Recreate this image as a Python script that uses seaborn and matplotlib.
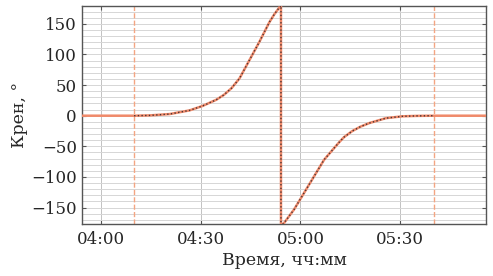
import numpy as np
import pandas as pd
import seaborn as sns
import matplotlib.pyplot as plt
from matplotlib.ticker import MultipleLocator, FixedLocator, FixedFormatter

# === DATA ===
# время в минутах от 04:00, крен в градусах
t_model = [10, 14.7, 20.7, 26.7, 30.6, 34.7, 37.0, 39.3, 41.7, 43.2, 44.7, 46.2, 47.7,
           49.2, 50.7, 52.2, 53.7, 54.15,
           54.15, 55.1, 58.1, 61.1, 64.1, 67.1, 70.1, 71.7, 73.1, 75.6, 78.0, 80.7,
           85.7, 90.6, 95, 100]
roll_model = [0, 0.5, 2.7, 8.7, 16, 26, 34, 45, 61, 76, 91, 106, 121,
              137, 153, 166, 177, 180,
              -180, -175, -153, -126, -99, -72, -53, -43, -35, -25, -18, -12,
              -4, -1, -0.3, 0]

t_meas = [-6] + t_model + [116]
roll_meas = [0] + roll_model + [0]

t_marks = [10, 100]  # границы интервала
tick_pos = [0, 30, 60, 90]
tick_labels = ["04:00", "04:30", "05:00", "05:30"]

df_meas = pd.DataFrame({"t": t_meas, "roll": roll_meas})
df_model = pd.DataFrame({"t": t_model, "roll": roll_model})

sns.set_style("ticks")
plt.rcParams['font.family'] = ['DejaVu Serif']

fig = plt.figure(figsize=(4.93, 2.76), dpi=100)
ax = fig.add_axes([0.166, 0.188, 0.82, 0.79])

# сетка
ax.yaxis.set_minor_locator(MultipleLocator(10))
ax.grid(which='minor', axis='y', color='#d6d6d6', lw=0.7)
ax.grid(which='major', axis='y', color='#d6d6d6', lw=0.7)
ax.grid(which='major', axis='x', color='#c2c2c2', lw=0.7)
ax.set_axisbelow(True)

for tm in t_marks:
    ax.axvline(tm, color='#f4a582', ls='--', lw=1.0, zorder=1)

sns.lineplot(data=df_meas, x="t", y="roll", ax=ax, color='#f08a6a', lw=1.8,
             sort=False, estimator=None, zorder=3)
sns.lineplot(data=df_model, x="t", y="roll", ax=ax, color='#4a3434', lw=1.0,
             ls=':', sort=False, estimator=None, zorder=4)

ax.set_xlim(-5.7, 115.8)
ax.set_ylim(-177, 179)
ax.xaxis.set_major_locator(FixedLocator(tick_pos))
ax.xaxis.set_major_formatter(FixedFormatter(tick_labels))
ax.set_yticks([-150, -100, -50, 0, 50, 100, 150])
ax.set_yticklabels(["\u2212150", "\u2212100", "\u221250", "0", "50", "100", "150"])
ax.tick_params(direction='in', top=True, right=True, labelsize=12, length=3, color='#555555')
ax.tick_params(axis='x', pad=5)
ax.tick_params(which='minor', length=0)
for s in ax.spines.values():
    s.set_color('#555555')
    s.set_linewidth(1.0)

ax.set_xlabel("Время, чч:мм", fontsize=12.5, labelpad=3)
ax.set_ylabel("Крен, °", fontsize=12.5, labelpad=2)

fig.savefig("out.png", dpi=100)
